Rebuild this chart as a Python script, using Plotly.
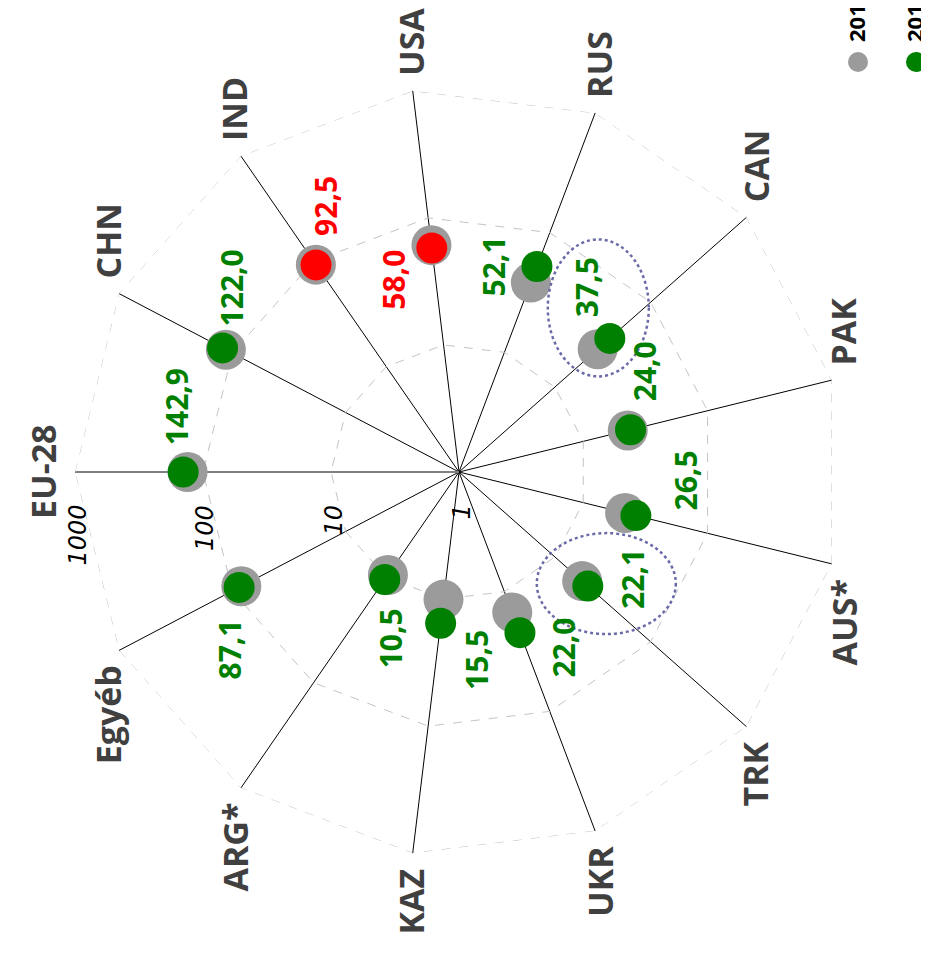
import math
import plotly.graph_objects as go

# ---------------- data ----------------
categories = ["EU-28", "CHN", "IND", "USA", "RUS", "CAN", "PAK",
              "AUS*", "TRK", "UKR", "KAZ", "ARG*", "Egyéb"]
values_prev = [132.0, 114.0, 93.0, 61.0, 38.3, 28.0, 22.8,
               21.7, 19.3, 14.9, 10.1, 9.5, 83.3]
values_curr = [142.9, 122.0, 92.5, 58.0, 52.1, 37.5, 24.0,
               26.5, 22.1, 22.0, 15.5, 10.5, 87.1]
highlighted = ["IND", "USA"]
legend_labels = ["2017", "2018"]
radial_ticks = [1, 10, 100, 1000]
circled = ["CAN", "TRK"]

# ---------------- layout geometry / style ----------------
PAGE_W, PAGE_H = 929, 954
BODY = 8                              # default html body margin
W, H = PAGE_W - BODY, PAGE_H - BODY   # figure size
CX, CY, R = 459, 472, 384             # polar centre / radius (page pixels)
LOGMAX = 3.0
N = len(categories)

GRAY = "#9b9b9b"
GREEN = "#008000"
RED = "#ff0000"
LABEL_COL = "#404040"
FONT = "Open Sans"

# pixel offsets of value labels relative to their point (x right, y down)
label_offsets = {
    "EU-28": (-7, -65), "CHN": (9, -60), "IND": (10, -59), "USA": (-38, 32),
    "RUS": (-43, 0), "CAN": (-23, -51), "PAK": (14, -58), "AUS*": (50, -35),
    "TRK": (44, -7), "UKR": (44, 15), "KAZ": (36, 37), "ARG*": (6, 59),
    "Egyéb": (-10, 62),
}
# ellipse extents relative to the point (dx0, dx1, dy0, dy1)
ellipse_ext = {"CAN": (-62, 39, -99, 38), "TRK": (-51, 88, -53, 48)}


def theta_deg(i):
    return 180 - i * 360 / N


def to_px(i, value):
    th = math.radians(theta_deg(i))
    r = R * math.log10(value) / LOGMAX
    return CX + r * math.cos(th), CY - r * math.sin(th)


def px_to_paper(x, y):
    return (x - BODY) / W, 1 - (y - BODY) / H


fmt = lambda v: f"{v:.1f}".replace(".", ",")
curr_colors = [RED if c in highlighted else GREEN for c in categories]

fig = go.Figure()
# outer dashed ring at the top of the radial range
fig.add_trace(go.Scatterpolar(
    r=[radial_ticks[-1]] * (N + 1), theta=categories + [categories[0]],
    mode="lines", line=dict(color="#c4c4c4", width=1, dash="dash"),
    showlegend=False, hoverinfo="skip"))
fig.add_trace(go.Scatterpolar(
    r=values_prev, theta=categories, mode="markers",
    marker=dict(size=40, color=GRAY), showlegend=False, hoverinfo="skip"))
fig.add_trace(go.Scatterpolar(
    r=values_curr, theta=categories, mode="markers",
    marker=dict(size=31, color=curr_colors), showlegend=False, hoverinfo="skip"))

annotations = []
shapes = []

# value labels
for i, (c, v, col) in enumerate(zip(categories, values_curr, curr_colors)):
    x, y = to_px(i, v)
    dx, dy = label_offsets[c]
    px, py = px_to_paper(x + dx, y + dy)
    annotations.append(dict(
        x=px, y=py, xref="paper", yref="paper", text=fmt(v), showarrow=False,
        textangle=-90, xanchor="center", yanchor="middle",
        font=dict(family=FONT, size=30, color=col, weight="bold")))

# category labels
fs_cat = 34
GAP = 13
GAP_SIDE = 7
for i, c in enumerate(categories):
    th = math.radians(theta_deg(i))
    ex = CX + R * math.cos(th)
    ey = CY - R * math.sin(th)
    s = math.sin(th)
    if abs(s) < 0.05:
        px, py = px_to_paper(ex - GAP_SIDE, ey)
        xa, ya = "right", "middle"
    elif s > 0:
        px, py = px_to_paper(ex + 12 * math.cos(th), ey - GAP)
        xa, ya = "center", "bottom"
    else:
        px, py = px_to_paper(ex + 12 * math.cos(th), ey + GAP)
        xa, ya = "center", "top"
    annotations.append(dict(
        x=px, y=py, xref="paper", yref="paper", text=c, showarrow=False,
        textangle=-90, xanchor=xa, yanchor=ya,
        font=dict(family=FONT, size=fs_cat, color=LABEL_COL, weight="bold")))

# radial tick labels (along the EU-28 spoke)
for t in radial_ticks:
    r = R * math.log10(t) / LOGMAX
    px, py = px_to_paper(CX - r + 2, CY + 31)
    annotations.append(dict(
        x=px, y=py, xref="paper", yref="paper", text=str(t), showarrow=False,
        textangle=-90, xanchor="center", yanchor="top",
        font=dict(family="DejaVu Sans", size=24, color="black", style="italic")))

# ellipses
for c in circled:
    i = categories.index(c)
    x, y = to_px(i, values_curr[i])
    dx0, dx1, dy0, dy1 = ellipse_ext[c]
    x0, y1p = px_to_paper(x + dx0, y + dy0)
    x1, y0p = px_to_paper(x + dx1, y + dy1)
    shapes.append(dict(type="circle", xref="paper", yref="paper",
                       x0=x0, x1=x1, y0=y0p, y1=y1p,
                       line=dict(color="#6a6aa8", width=2.5, dash="dot")))

# legend (rotated, cut at top edge)
legend_cols = [GRAY, GREEN]
for k, (lab, col) in enumerate(zip(legend_labels, legend_cols)):
    mx, my = 858 + 58 * k, 62
    x0, y1p = px_to_paper(mx - 10, my - 10)
    x1, y0p = px_to_paper(mx + 10, my + 10)
    shapes.append(dict(type="circle", xref="paper", yref="paper",
                       x0=x0, x1=x1, y0=y0p, y1=y1p,
                       fillcolor=col, line=dict(width=0)))
    tx, ty = px_to_paper(mx - 2, 44)
    annotations.append(dict(
        x=tx, y=ty, xref="paper", yref="paper", text=lab, showarrow=False,
        textangle=-90, xanchor="center", yanchor="bottom",
        font=dict(family=FONT, size=22, color="black", weight="bold")))

fig.update_layout(
    width=W, height=H,
    margin=dict(l=0, r=0, t=0, b=0),
    paper_bgcolor="white",
    showlegend=False,
    polar=dict(
        domain=dict(x=[(CX - BODY - R) / W, (CX - BODY + R) / W],
                    y=[(H - (CY - BODY) - R) / H, (H - (CY - BODY) + R) / H]),
        bgcolor="white",
        gridshape="linear",
        radialaxis=dict(type="log", range=[0, LOGMAX], tickvals=radial_ticks,
                        showticklabels=False, ticks="", angle=180,
                        showline=True, linecolor="#808080", linewidth=2,
                        gridcolor="#c4c4c4", griddash="dash", gridwidth=1,
                        layer="below traces"),
        angularaxis=dict(type="category", categoryarray=categories,
                         rotation=180, direction="clockwise",
                         showticklabels=False, ticks="",
                         showline=False, gridcolor="black", gridwidth=1,
                         layer="below traces"),
    ),
    annotations=annotations,
    shapes=shapes,
)

fig.write_html("out.html")
